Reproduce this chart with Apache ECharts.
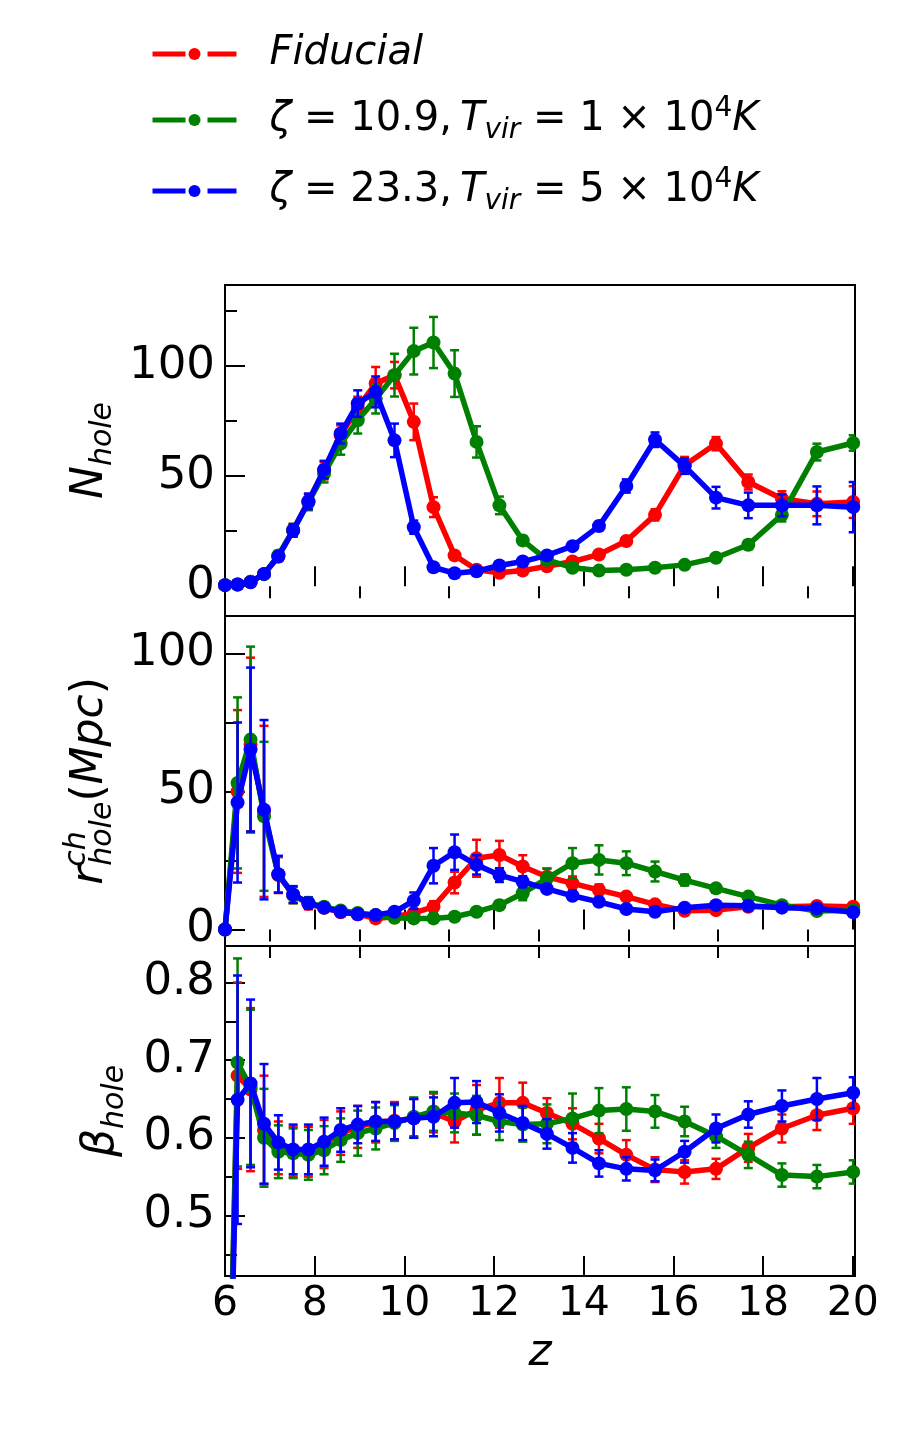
<!DOCTYPE html>
<html>
<head>
<meta charset="utf-8">
<script src="https://cdn.jsdelivr.net/npm/echarts@6.0.0/dist/echarts.min.js"></script>
<style>
  html, body { margin: 0; padding: 0; background: #fff; }
  #chart { width: 900px; height: 1436px; }
</style>
</head>
<body>
<div id="chart"></div>
<script>
// redshift grid shared by all runs
const z = [6.00, 6.28, 6.57, 6.87, 7.19, 7.52, 7.86, 8.21, 8.58, 8.96, 9.36, 9.78, 10.21, 10.65, 11.12,
  11.61, 12.12, 12.64, 13.18, 13.75, 14.34, 14.95, 15.59, 16.25, 16.95, 17.67, 18.42, 19.20, 20.01];

// N_hole
const nRed = [0.5, 0.8, 2.0, 5.5, 13.5, 25.5, 38.5, 52.5, 68.5, 81, 92, 95.8, 74.6, 35.9, 14.0, 7.5, 6.1, 7.1,
  9.1, 11.2, 14.4, 20.5, 32.4, 54.9, 64.7, 47.3, 39.7, 37.4, 38.2];
const nRedErr = [0.3, 0.4, 0.7, 1.2, 2, 2.8, 3.5, 4, 4.5, 5, 7.5, 6, 8.3, 4.5, 1.5, 1, 1, 1, 1, 1.2, 1.5, 1.8,
  2.5, 3.8, 3, 3.4, 3.4, 5.6, 7.2];
const nGreen = [0.5, 0.8, 2.0, 5.5, 14, 25.5, 38, 51.1, 64.7, 75.3, 84.9, 95.8, 106.7, 110.6, 96.5, 65.5, 36.7,
  20.8, 12, 8.4, 7.1, 7.5, 8.4, 9.7, 12.9, 18.8, 32.4, 60.9, 65.0];
const nGreenErr = [0.3, 0.4, 0.7, 1.2, 2, 2.8, 3.5, 4, 5, 6, 6.5, 9.7, 10.6, 11.6, 10.6, 7.1, 4, 2, 1.2, 1, 1,
  1, 1, 1.2, 1.5, 2, 3, 3.8, 3.5];
const nBlue = [0.5, 0.8, 1.8, 5.6, 13.5, 25.3, 38.5, 52.9, 69.3, 82.9, 88.2, 66.2, 26.8, 8.6, 5.9, 6.8, 9.4,
  11.2, 14.0, 18.2, 27.3, 45.5, 66.5, 54.5, 40.2, 36.7, 36.7, 36.7, 35.9];
const nBlueErr = [0.3, 0.4, 0.7, 1.2, 2, 2.8, 3.5, 4, 4.5, 6, 7, 7.6, 3, 1.2, 1, 1, 1, 1.2, 1.3, 1.5, 2, 3,
  3.3, 3.5, 4.9, 5.8, 5, 8.6, 11.4];

// r_hole^ch (Mpc)
const rRed = [0, 50.0, 67.0, 42.8, 19.7, 12.5, 9.3, 7.8, 6.2, 5.5, 4.0, 4.6, 6.0, 8.2, 17.0, 25.8, 27.0, 22.8,
  19.1, 16.7, 14.3, 11.9, 9.1, 6.8, 7.0, 8.2, 8.2, 8.5, 8.2];
const rRedErr = [0, 29.5, 31.5, 31, 6.5, 3, 2, 1.5, 1, 1, 0.8, 0.8, 1, 2, 3.9, 6.7, 5.1, 4.1, 3, 2.5, 2, 1.5,
  1.2, 1, 1, 1, 1, 1, 1];
const rGreen = [0, 53.1, 68.8, 41.0, 19.9, 12.5, 9.7, 8.2, 6.9, 6.0, 5.2, 4.2, 4.0, 4.0, 4.6, 6.4, 8.8, 13.1,
  18.5, 24.0, 25.2, 24.0, 21.0, 17.9, 14.9, 11.9, 8.8, 6.7, 7.0];
const rGreenErr = [0, 31, 33.7, 27, 6.5, 3, 2, 1.5, 1, 1, 0.8, 0.8, 0.8, 0.8, 0.8, 1, 1.5, 2.5, 3.5, 5.5, 5.3,
  4.3, 3.6, 2, 1.5, 1.2, 1, 1, 1];
const rBlue = [0, 46.0, 65.2, 43.4, 20.0, 12.7, 9.5, 7.9, 6.4, 5.5, 5.2, 6.4, 10.4, 23.1, 28.0, 23.4, 19.7,
  17.3, 14.7, 12.2, 10.0, 7.4, 6.4, 7.9, 8.8, 8.6, 7.9, 7.6, 6.2];
const rBlueErr = [0, 29, 29.7, 32.5, 6.7, 3, 2, 1.5, 1, 1, 1, 1, 3, 6.4, 6.4, 3.5, 2.5, 2, 1.5, 1.2, 1, 1, 1,
  1, 1, 1, 1, 1, 1];

// beta_hole
const bRed = [0, 0.680, 0.662, 0.610, 0.587, 0.582, 0.582, 0.592, 0.606, 0.614, 0.620, 0.622, 0.625, 0.632,
  0.621, 0.636, 0.645, 0.645, 0.632, 0.618, 0.599, 0.578, 0.559, 0.556, 0.560, 0.587, 0.612, 0.629, 0.638];
const bRedErr = [0, 0.12, 0.105, 0.07, 0.034, 0.032, 0.032, 0.031, 0.028, 0.027, 0.026, 0.024, 0.025, 0.025,
  0.027, 0.032, 0.032, 0.026, 0.019, 0.02, 0.019, 0.019, 0.016, 0.015, 0.013, 0.018, 0.018, 0.019, 0.02];
const bGreen = [0, 0.697, 0.665, 0.600, 0.582, 0.580, 0.578, 0.584, 0.597, 0.606, 0.612, 0.619, 0.627, 0.634,
  0.632, 0.629, 0.621, 0.617, 0.618, 0.625, 0.635, 0.637, 0.634, 0.621, 0.602, 0.578, 0.552, 0.550, 0.556];
const bGreenErr = [0, 0.134, 0.1, 0.063, 0.034, 0.032, 0.032, 0.031, 0.028, 0.029, 0.027, 0.023, 0.025, 0.025,
  0.025, 0.025, 0.024, 0.022, 0.025, 0.032, 0.029, 0.028, 0.021, 0.019, 0.015, 0.017, 0.015, 0.015, 0.015];
const bBlue = [0, 0.649, 0.670, 0.618, 0.594, 0.585, 0.585, 0.595, 0.610, 0.617, 0.621, 0.621, 0.625, 0.627,
  0.645, 0.646, 0.632, 0.619, 0.605, 0.587, 0.567, 0.560, 0.558, 0.582, 0.612, 0.630, 0.641, 0.650, 0.658];
const bBlueErr = [0, 0.16, 0.108, 0.077, 0.035, 0.032, 0.032, 0.031, 0.028, 0.024, 0.025, 0.023, 0.025, 0.025,
  0.032, 0.027, 0.024, 0.022, 0.019, 0.019, 0.017, 0.015, 0.014, 0.014, 0.018, 0.017, 0.02, 0.027, 0.02];

// ticks
const xMajor = [6, 8, 10, 12, 14, 16, 18, 20];
const xMinor = [7, 9, 11, 13, 15, 17, 19];
const nTicks = [0, 50, 100];
const nMinor = [25, 75, 125];
const rTicks = [0, 50, 100];
const rMinor = [25, 75];
const bTicks = [0.5, 0.6, 0.7, 0.8];
const bMinor = [0.45, 0.55, 0.65, 0.75];

const runNames = ['fid', 'z109', 'z233'];
const runColors = ['#ff0000', '#008000', '#0000ff'];

const FONT = 'DejaVu Sans';
const chart = echarts.init(document.getElementById('chart'));

const grids = [
  { left: 225, top: 285, width: 630, height: 331 },
  { left: 225, top: 616, width: 630, height: 330 },
  { left: 225, top: 946, width: 630, height: 330 }
].map(g => Object.assign(g, { show: true, borderColor: '#000', borderWidth: 2, backgroundColor: 'transparent' }));

const tickStyle = { color: '#000', width: 2 };

function xAxisFor(gi, values, len, labels) {
  return {
    type: 'value', gridIndex: gi, min: 6, max: 20.05,
    axisLine: { show: false }, splitLine: { show: false },
    axisTick: { inside: true, length: len, lineStyle: tickStyle, customValues: values },
    axisLabel: { show: labels, customValues: values, fontSize: 41, color: '#000', fontFamily: FONT, margin: 8 },
    name: labels ? 'z' : '', nameLocation: 'middle', nameGap: 56,
    nameTextStyle: { fontSize: 44, fontStyle: 'italic', fontFamily: FONT, color: '#000' }
  };
}

function yAxisFor(gi, min, max, values, len, labels, name, gap) {
  return {
    type: 'value', gridIndex: gi, min: min, max: max, position: 'left',
    axisLine: { show: false }, splitLine: { show: false },
    axisTick: { inside: true, length: len, lineStyle: tickStyle, customValues: values },
    axisLabel: { show: labels, customValues: values, fontSize: 45, color: '#000', fontFamily: FONT, margin: 10 },
    name: name || '', nameLocation: 'middle', nameGap: gap || 0, nameRotate: 90,
    nameTextStyle: {
      color: '#000', fontFamily: FONT,
      rich: {
        i: { fontSize: 44, fontStyle: 'italic', fontFamily: FONT, lineHeight: 56, align: 'left', color: '#000' },
        n: { fontSize: 44, fontFamily: FONT, lineHeight: 56, align: 'left', color: '#000' },
        s: { fontSize: 30, fontStyle: 'italic', fontFamily: FONT, lineHeight: 30, verticalAlign: 'bottom', align: 'left', color: '#000' },
        p: { fontSize: 30, fontStyle: 'italic', fontFamily: FONT, lineHeight: 30, verticalAlign: 'top', width: 1, align: 'left', color: '#000' }
      }
    }
  };
}

const xAxes = [
  xAxisFor(0, xMajor, 20, false), xAxisFor(1, xMajor, 20, false), xAxisFor(2, xMajor, 20, true),
  xAxisFor(0, xMinor, 12, false), xAxisFor(1, xMinor, 12, false), xAxisFor(2, xMinor, 12, false)
];
const yAxes = [
  yAxisFor(0, -13.5, 136.7, nTicks, 20, true, '{i|N}{s|hole}', 89),
  yAxisFor(1, -6, 113.6, rTicks, 20, true, '{i|r}{p|ch}{s|hole}{n|(}{i|Mpc}{n|)}', 96),
  yAxisFor(2, 0.422, 0.847, bTicks, 20, true, '{i|β}{s|hole}', 95),
  yAxisFor(0, -13.5, 136.7, nMinor, 12, false),
  yAxisFor(1, -6, 113.6, rMinor, 12, false),
  yAxisFor(2, 0.422, 0.847, bMinor, 12, false)
];

function errorBar(params, api) {
  const x = api.value(0), y = api.value(1), e = api.value(2);
  const top = api.coord([x, y + e]);
  const bot = api.coord([x, y - e]);
  const half = 4.5;
  const style = { stroke: api.visual('color'), lineWidth: 2.5 };
  return {
    type: 'group',
    children: [
      { type: 'line', shape: { x1: top[0], y1: top[1], x2: bot[0], y2: bot[1] }, style: style },
      { type: 'line', shape: { x1: top[0] - half, y1: top[1], x2: top[0] + half, y2: top[1] }, style: style },
      { type: 'line', shape: { x1: bot[0] - half, y1: bot[1], x2: bot[0] + half, y2: bot[1] }, style: style }
    ]
  };
}

const panels = [
  [[nRed, nRedErr], [nGreen, nGreenErr], [nBlue, nBlueErr]],
  [[rRed, rRedErr], [rGreen, rGreenErr], [rBlue, rBlueErr]],
  [[bRed, bRedErr], [bGreen, bGreenErr], [bBlue, bBlueErr]]
];

const series = [];
panels.forEach((runs, gi) => {
  runs.forEach((run, k) => {
    const vals = run[0], errs = run[1];
    series.push({
      type: 'custom', name: runNames[k] + '-err', xAxisIndex: gi, yAxisIndex: gi,
      renderItem: errorBar, clip: true, z: 2 + 2 * k,
      itemStyle: { color: runColors[k] },
      encode: { x: 0, y: 1 },
      data: z.map((zz, i) => [zz, vals[i], errs[i]])
    });
    series.push({
      type: 'line', name: runNames[k], xAxisIndex: gi, yAxisIndex: gi,
      z: 3 + 2 * k, clip: true, symbol: 'circle', symbolSize: 14, showSymbol: true,
      lineStyle: { color: runColors[k], width: 5.5 },
      itemStyle: { color: runColors[k] },
      data: z.map((zz, i) => [zz, vals[i]])
    });
  });
});

const legendText = {
  fid: '{f|Fiducial}',
  z109: '{m|ζ}{r| = 10.9,\u2009}{m|T}{sub|vir}{r| = 1 × 10}{sup|4}{m|K}',
  z233: '{m|ζ}{r| = 23.3,\u2009}{m|T}{sub|vir}{r| = 5 × 10}{sup|4}{m|K}'
};

chart.setOption({
  animation: false,
  backgroundColor: '#fff',
  legend: {
    data: runNames, orient: 'vertical', left: 145, top: 29,
    itemWidth: 84, itemHeight: 15, itemGap: 21,
    lineStyle: { width: 5, type: [33, 22] },
    formatter: name => legendText[name],
    textStyle: {
      padding: [0, 0, 0, 28],
      rich: {
        f: { fontSize: 40, fontStyle: 'italic', fontFamily: FONT, lineHeight: 50, color: '#000' },
        m: { fontSize: 40, fontStyle: 'italic', fontFamily: FONT, lineHeight: 50, color: '#000' },
        r: { fontSize: 40, fontFamily: FONT, lineHeight: 50, color: '#000' },
        sub: { fontSize: 28, fontStyle: 'italic', fontFamily: FONT, lineHeight: 28, verticalAlign: 'bottom', color: '#000' },
        sup: { fontSize: 28, fontFamily: FONT, lineHeight: 28, verticalAlign: 'top', color: '#000' }
      }
    }
  },
  grid: grids,
  xAxis: xAxes,
  yAxis: yAxes,
  series: series
});
</script>
</body>
</html>
